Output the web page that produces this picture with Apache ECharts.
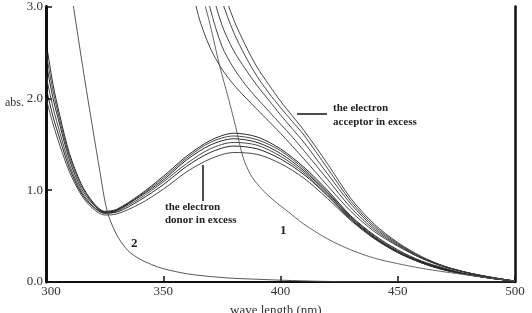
<!DOCTYPE html>
<html><head><meta charset="utf-8">
<script src="https://cdn.jsdelivr.net/npm/echarts@6/dist/echarts.min.js"></script>
<style>html,body{margin:0;padding:0;background:#fff}#c{width:532px;height:313px}</style>
</head><body><div id="c"></div>
<script>
// x tick labels / y tick labels
const xTicks = [300, 350, 400, 450, 500];
const yTicks = [0.0, 1.0, 2.0, 3.0];

// "donor in excess" curves
const wlDonor = [300,303,306,310,315,320,325,330,340,350,360,370,380,390,400,410,420,430,440,450,460,470,480,490,500];
const donor1 = [2.62,2.15,1.80,1.40,1.07,0.87,0.77,0.79,0.95,1.15,1.37,1.54,1.62,1.58,1.45,1.25,1.00,0.72,0.51,0.35,0.23,0.15,0.085,0.04,0.01];
const donor2 = [2.50,2.08,1.75,1.37,1.05,0.86,0.76,0.78,0.94,1.13,1.35,1.52,1.59,1.55,1.43,1.23,0.98,0.71,0.50,0.34,0.22,0.14,0.08,0.04,0.01];
const donor3 = [2.40,2.00,1.70,1.33,1.02,0.85,0.76,0.78,0.93,1.11,1.33,1.49,1.56,1.52,1.40,1.21,0.97,0.70,0.49,0.33,0.22,0.14,0.08,0.04,0.01];
const donor4 = [2.25,1.90,1.62,1.28,0.99,0.83,0.75,0.77,0.91,1.09,1.29,1.45,1.52,1.49,1.37,1.19,0.95,0.69,0.48,0.33,0.21,0.13,0.08,0.04,0.01];
const donor5 = [2.12,1.80,1.55,1.24,0.97,0.82,0.75,0.76,0.89,1.06,1.26,1.41,1.48,1.45,1.34,1.17,0.94,0.68,0.48,0.32,0.21,0.13,0.08,0.04,0.01];
const donor6 = [2.00,1.72,1.48,1.20,0.95,0.80,0.73,0.74,0.85,1.01,1.20,1.34,1.41,1.39,1.29,1.13,0.91,0.67,0.47,0.32,0.21,0.13,0.08,0.04,0.01];

// "acceptor in excess" curves (values above 3.0 are off scale)
const wlAcc = [355,360,365,370,375,380,385,390,395,400,405,410,420,430,440,450,460,470,480,490,500];
const acc1 = [4.3,3.5,2.9,2.55,2.32,2.15,2.01,1.88,1.75,1.62,1.48,1.34,1.05,0.77,0.55,0.39,0.26,0.165,0.1,0.05,0.01];
const acc2 = [5.1,4.3,3.55,2.98,2.57,2.33,2.15,2.0,1.86,1.72,1.58,1.43,1.12,0.81,0.57,0.40,0.26,0.165,0.1,0.05,0.01];
const acc3 = [5.6,4.7,3.9,3.25,2.8,2.52,2.32,2.14,1.98,1.82,1.67,1.52,1.18,0.85,0.59,0.41,0.27,0.17,0.1,0.05,0.01];
const acc4 = [6.0,5.1,4.3,3.6,3.07,2.72,2.46,2.24,2.06,1.9,1.75,1.6,1.24,0.88,0.61,0.42,0.27,0.17,0.1,0.05,0.01];
const acc5 = [6.3,5.4,4.55,3.8,3.23,2.86,2.58,2.34,2.15,1.97,1.81,1.65,1.29,0.91,0.63,0.43,0.28,0.17,0.1,0.05,0.01];

// curve 1
const wl1 = [362,366,370,374,378,381,384,387,390,394,398,403,410,420,430,440,450,460,470,480,490,500];
const curve1 = [3.7,3.2,2.8,2.36,1.98,1.68,1.36,1.18,1.07,0.96,0.87,0.77,0.63,0.47,0.35,0.26,0.2,0.15,0.11,0.075,0.04,0.01];

// curve 2
const wl2 = [309,312,315,318,320,323,326,330,335,340,345,350,360,370,380,390,400,410,420,440,470,500];
const curve2 = [3.4,2.95,2.45,1.97,1.66,1.2,0.78,0.52,0.34,0.25,0.19,0.145,0.09,0.06,0.04,0.03,0.02,0.012,0.006,0.002,0,0];

const serif = '"Liberation Serif","DejaVu Serif",serif';
function pairs(xs, ys){ return xs.map((x,i)=>[x, ys[i]]); }
function line(xs, ys, color, w){
  return {type:'line', data:pairs(xs,ys), smooth:0.3, symbol:'none', clip:true,
    lineStyle:{color:color, width:w}, silent:true, animation:false, z:3};
}
const series = [];
[donor1,donor2,donor3,donor4,donor5,donor6].forEach((d,i)=>series.push(line(wlDonor,d, i%2?'#333':'#111',0.9)));
[acc1,acc2,acc3,acc4,acc5].forEach(d=>series.push(line(wlAcc,d,'#333',0.9)));
series.push(line(wl1,curve1,'#555',0.9));
series.push(line(wl2,curve2,'#444',0.9));

const chart = echarts.init(document.getElementById('c'), null, {renderer:'canvas'});
chart.setOption({
  animation:false,
  grid:{left:46, right:17, top:5, bottom:31, containLabel:false},
  xAxis:[{
    type:'value', min:xTicks[0], max:xTicks[xTicks.length-1], interval:50,
    axisLine:{lineStyle:{color:'#666', width:2}},
    axisTick:{inside:true, length:6, lineStyle:{color:'#111', width:1.5}},
    splitLine:{show:false},
    axisLabel:{margin:3, color:'#333', fontFamily:serif, fontSize:13,
      formatter:v=> v===xTicks[0] ? '{m|'+v+'}' : String(v),
      rich:{m:{padding:[0,0,0,10], fontFamily:serif, fontSize:13, color:'#333'}}}
  },{
    type:'value', position:'top', min:xTicks[0], max:xTicks[xTicks.length-1],
    axisLine:{show:true, lineStyle:{color:'#111', width:2}},
    axisTick:{show:false}, axisLabel:{show:false}, splitLine:{show:false}
  }],
  yAxis:[{
    type:'value', min:yTicks[0], max:yTicks[yTicks.length-1], interval:1,
    axisLine:{show:true, lineStyle:{color:'#111', width:3}},
    axisTick:{show:true, inside:true, length:6, lineStyle:{color:'#111', width:1.5}},
    splitLine:{show:false},
    axisLabel:{margin:3, color:'#333', fontFamily:serif, fontSize:13, formatter:v=>v.toFixed(1)}
  },{
    type:'value', position:'right', min:yTicks[0], max:yTicks[yTicks.length-1],
    axisLine:{show:true, lineStyle:{color:'#111', width:2.5}},
    axisTick:{show:false}, axisLabel:{show:false}, splitLine:{show:false}
  }],
  series: series,
  graphic:[
    {type:'text', left:5, top:97, style:{text:'abs.', font:'12px '+serif, fill:'#333'}},
    {type:'text', left:230, top:304, style:{text:'wave length (nm)', font:'13px '+serif, fill:'#333'}},
    {type:'line', shape:{x1:297,y1:114,x2:327,y2:114}, style:{stroke:'#111', lineWidth:1.5}},
    {type:'text', left:333, top:101, style:{text:'the electron\nacceptor in excess', font:'bold 11px '+serif, fill:'#222', lineHeight:14}},
    {type:'line', shape:{x1:203,y1:165,x2:203,y2:201}, style:{stroke:'#111', lineWidth:1.5}},
    {type:'text', left:165, top:201, style:{text:'the electron\ndonor in excess', font:'bold 11px '+serif, fill:'#222', lineHeight:13}},
    {type:'text', left:280, top:224, style:{text:'1', font:'bold 13px '+serif, fill:'#222'}},
    {type:'text', left:131, top:237, style:{text:'2', font:'bold 13px '+serif, fill:'#222'}}
  ]
});
</script></body></html>
